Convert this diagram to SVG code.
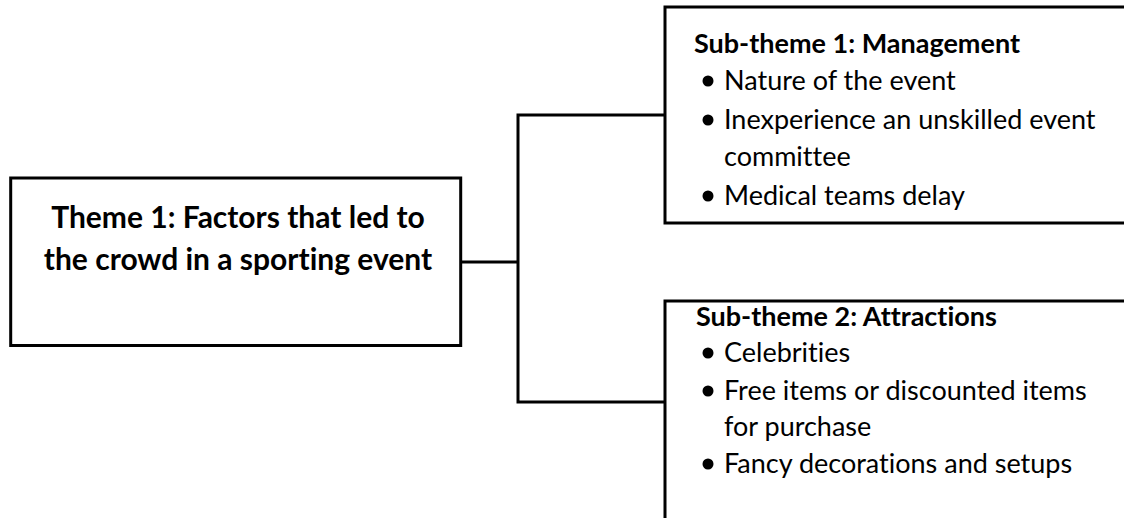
<svg xmlns="http://www.w3.org/2000/svg" width="1124" height="518" viewBox="0 0 1124 518">
<style>
text{font-variant-ligatures:none;font-feature-settings:"liga" 0}
.box{fill:#fff;stroke:#000;stroke-width:3}
.conn{fill:none;stroke:#000;stroke-width:3}
.main{font-family:Lato,"Open Sans",sans-serif;font-weight:bold;font-size:30px;fill:#000;text-anchor:middle}
.sub{font-family:Lato,"Open Sans",sans-serif;font-weight:bold;font-size:27px;fill:#000}
.item{font-family:Lato,"Open Sans",sans-serif;font-size:27px;fill:#000}
.dot{fill:#000}
</style>
<rect width="1124" height="518" fill="#fff"/>
<g id="connectors">
<polyline class="conn" points="461,262 518,262"/>
<polyline class="conn" points="665,115 518,115 518,402 665,402"/>
</g>
<g id="theme1">
<rect class="box" x="10.7" y="178" width="450" height="167.5"/>
<text class="main" x="238" y="228">Theme 1: Factors that led to</text>
<text class="main" x="238" y="270">the crowd in a sporting event</text>
</g>
<g id="subtheme1">
<rect class="box" x="665" y="7" width="480" height="216"/>
<text class="sub" x="694" y="53">Sub-theme 1: Management</text>
<circle class="dot" cx="708" cy="81" r="5.5"/>
<text class="item" x="724" y="90">Nature of the event</text>
<circle class="dot" cx="708" cy="120" r="5.5"/>
<text class="item" x="724" y="129">Inexperience an unskilled event</text>
<text class="item" x="724" y="166">committee</text>
<circle class="dot" cx="708" cy="196" r="5.5"/>
<text class="item" x="724" y="205">Medical teams delay</text>
</g>
<g id="subtheme2">
<rect class="box" x="665" y="301" width="480" height="240"/>
<text class="sub" x="696" y="326">Sub-theme 2: Attractions</text>
<circle class="dot" cx="708" cy="353" r="5.5"/>
<text class="item" x="724" y="362">Celebrities</text>
<circle class="dot" cx="708" cy="391" r="5.5"/>
<text class="item" x="724" y="400">Free items or discounted items</text>
<text class="item" x="724" y="436">for purchase</text>
<circle class="dot" cx="708" cy="464" r="5.5"/>
<text class="item" x="724" y="473">Fancy decorations and setups</text>
</g>
</svg>
